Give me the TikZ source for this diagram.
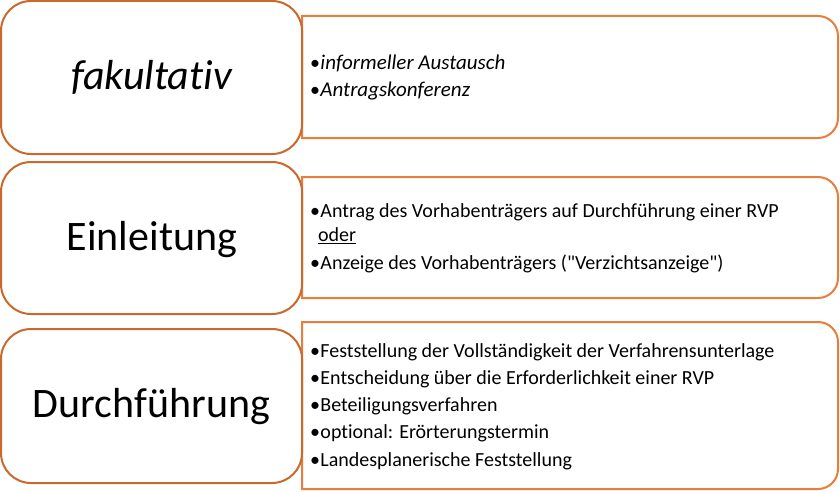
\documentclass[tikz,border=0pt]{standalone}
\usepackage{fontspec}
\setmainfont{Carlito}[Ligatures={TeXOff,NoCommon,NoContextual}]
\definecolor{lorange}{RGB}{200,105,45}
\definecolor{rorange}{RGB}{232,126,60}
\newcommand{\bul}{•\hspace{0.3pt}}
\begin{document}
\begin{tikzpicture}[x=1pt,y=1pt,
  lbox/.style={draw=lorange,line width=2pt,fill=white,rounded corners=30pt,inner sep=0pt,outer sep=0pt},
  pbox/.style={draw=none,rectangle,inner sep=0pt,outer sep=0pt},
  rframe/.style={draw=rorange,line width=2pt,fill=white},
  big/.style={anchor=base,inner sep=0pt,font=\fontsize{42}{50}\selectfont},
  item/.style={anchor=base west,inner sep=0pt,font=\fontsize{20}{24}\selectfont},
  iitem/.style={anchor=base west,inner sep=0pt,font=\fontsize{21}{25}\selectfont}]
\useasboundingbox (0,0) rectangle (840,491);
% right panels (invisible anchors)
\node[pbox,minimum width=536pt,minimum height=122pt] (p1) at (570,414) {};
\node[pbox,minimum width=536pt,minimum height=121pt] (p2) at (570,253.5) {};
\node[pbox,minimum width=536pt,minimum height=167pt] (p3) at (570,85.5) {};
\foreach \p in {p1,p2,p3}{
  \draw[rframe] (\p.north west) -- ([xshift=-20pt]\p.north east)
    arc[start angle=90,end angle=0,radius=20pt] -- ([yshift=20pt]\p.south east)
    arc[start angle=0,end angle=-90,radius=20pt] -- (\p.south west) -- cycle;
}
% left boxes
\node[lbox,minimum width=301pt,minimum height=153pt] (l1) at (151.5,413.5) {};
\node[lbox,minimum width=301pt,minimum height=152pt] (l2) at (151.5,253) {};
\node[lbox,minimum width=301pt,minimum height=154pt] (l3) at (151.5,85) {};
% titles
\node[big] (t1) at (151.5,401) {\itshape fakultat\kern0pt iv};
\node[big] (t2) at (152,241) {Einleitung};
\node[big] (t3) at (151.5,74) {Durchführung};
% items
\node[iitem] (a1) at (310,421) {{\fontsize{20}{24}\selectfont\bul}\textit{informeller Austausch}};
\node[iitem] (a2) at (310,394.3) {{\fontsize{20}{24}\selectfont\bul}\textit{Antragskonferenz}};
\node[item] (b1) at (310,274) {\bul Antrag des Vorhabenträgers auf Durchführung einer RVP};
\node[item] (b2) at (318,249.3) {\underline{oder}};
\node[item] (b3) at (310,222) {\bul Anzeige des Vorhabenträgers ("Verzichtsanzeige")};
\node[item] (c1) at (310,133.7) {\bul Feststellung der Vollständigkeit der Verfahrensunterlage};
\node[item] (c2) at (310,107) {\bul Entscheidung über die Erforderlichkeit einer RVP};
\node[item] (c3) at (310,79.3) {\bul Beteiligungsverfahren};
\node[item] (c4) at (310,53) {\bul opt\kern0pt ional: Erörterungstermin};
\node[item] (c5) at (310,25) {\bul Landesplanerische Feststellung};
\end{tikzpicture}
\end{document}
